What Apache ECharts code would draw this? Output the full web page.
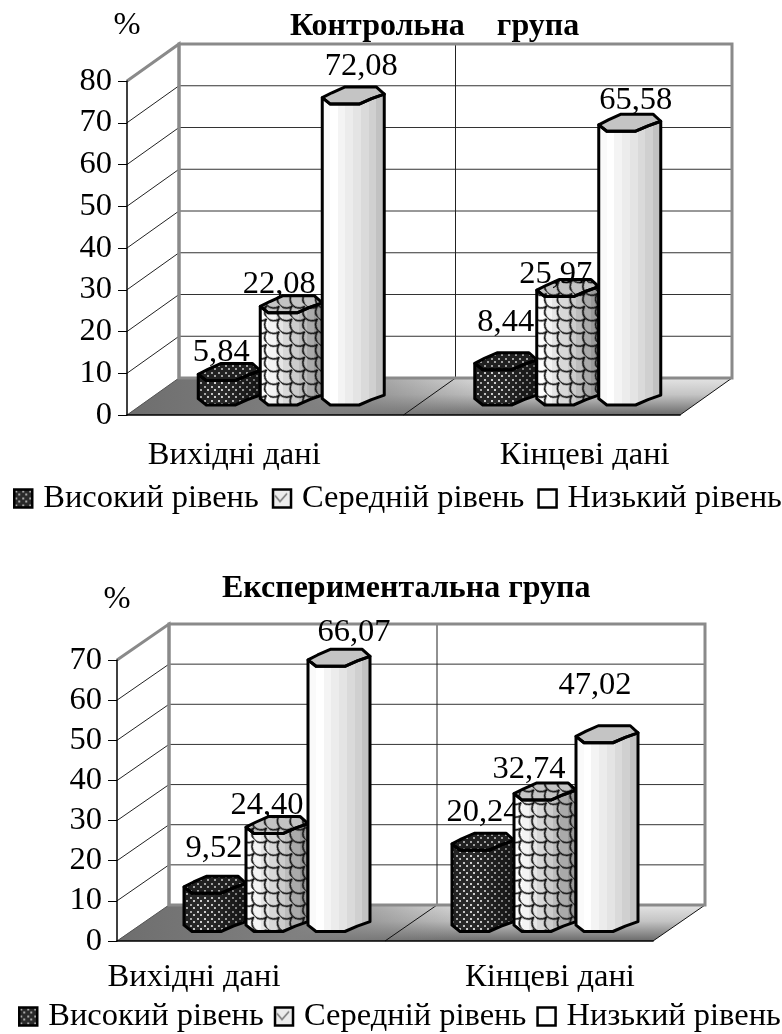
<!DOCTYPE html>
<html>
<head>
<meta charset="utf-8">
<style>
  html, body { margin: 0; padding: 0; background: #fff; }
  #chart { width: 782px; height: 1034px; }
</style>
<script src="https://cdn.jsdelivr.net/npm/echarts@6/dist/echarts.min.js"></script>
</head>
<body>
<div id="chart"></div>
<script>
  const categories = ['Вихідні дані', 'Кінцеві дані'];
  const levelNames = ['Високий рівень', 'Середній рівень', 'Низький рівень'];

  const controlHigh = [5.84, 8.44];
  const controlMiddle = [22.08, 25.97];
  const controlLow = [72.08, 65.58];

  const expHigh = [9.52, 20.24];
  const expMiddle = [24.40, 32.74];
  const expLow = [66.07, 47.02];

  const controlTitle = 'Контрольна    група';
  const expTitle = 'Експериментальна група';
  const unitName = '%';

  const FONT = '"Liberation Serif", "Times New Roman", serif';
  const BIG = 32.5;

  // outline of the faceted cylinder top, in units of its half width / half height
  const RIM_BACK = [[-1, .25], [-.69, -.33], [-.28, -1], [.75, -1], [1, -.17]];
  const RIM_FRONT = [[1, -.17], [.59, .37], [.19, 1], [-.74, 1], [-1, .25]];

  function patternCanvas(size, draw) {
    let c = document.createElement('canvas');
    c.width = c.height = size;
    draw(c.getContext('2d'), size);
    return c;
  }

  // dark lattice of the "high" bars
  const latticeTile = patternCanvas(7, (ctx, s) => {
    ctx.fillStyle = 'rgba(0,0,0,0.8)';
    ctx.fillRect(0, 0, s, s);
    ctx.clearRect(1, 1, 2, 2);
    ctx.clearRect(4, 4, 2, 2);
  });

  // scale pattern of the "middle" bars
  const scaleTile = patternCanvas(18, (ctx, s) => {
    ctx.strokeStyle = '#111';
    ctx.lineWidth = 1.6;
    [[s / 2, 0], [0, s / 2], [s, s / 2], [s / 2, s]].forEach(p => {
      ctx.beginPath();
      ctx.arc(p[0], p[1], s / 2, 0.1, Math.PI - 0.1);
      ctx.stroke();
    });
  });

  // legend swatches
  const highSwatch = patternCanvas(7, (ctx, s) => {
    ctx.fillStyle = '#2a2a2a';
    ctx.fillRect(0, 0, s, s);
    ctx.fillStyle = '#a8a8a8';
    ctx.fillRect(1, 1, 2, 2);
    ctx.fillRect(4, 4, 2, 2);
  });
  const middleSwatch = patternCanvas(16, (ctx, s) => {
    ctx.fillStyle = '#ececec';
    ctx.fillRect(0, 0, s, s);
    ctx.strokeStyle = '#777';
    ctx.lineWidth = 1.5;
    ctx.beginPath();
    ctx.moveTo(2, 6);
    ctx.lineTo(7, 12);
    ctx.lineTo(14, 4);
    ctx.stroke();
  });

  function steps(colors) {
    let stops = [];
    colors.forEach((c, i) => {
      stops.push({ offset: i / colors.length, color: c });
      stops.push({ offset: (i + 1) / colors.length, color: c });
    });
    return { type: 'linear', x: 0, y: 0, x2: 1, y2: 0, colorStops: stops };
  }

  const SHADES = [
    steps(['#a8a8a8', '#c4c4c4', '#d0d0d0', '#c4c4c4', '#b0b0b0', '#989898', '#808080', '#707070']),
    steps(['#ffffff', '#f4f4f4', '#e6e6e6', '#d8d8d8', '#cccccc', '#bcbcbc', '#aaaaaa', '#9a9a9a']),
    steps(['#fafafa', '#ffffff', '#f4f4f4', '#ececec', '#e4e4e4', '#dadada', '#d0d0d0', '#c2c2c2'])
  ];
  const TOP_FILL = ['#a0a0a0', '#c4c4c4', '#c4c4c4'];
  const OVERLAY = [
    { image: latticeTile, repeat: 'repeat' },
    { image: scaleTile, repeat: 'repeat', rotation: Math.PI / 4 },
    null
  ];

  function bandEdges(api) {
    let band = api.size([1, 0])[0];
    let left = api.coord([0, 0])[0] - band / 2;
    return { band: band, left: left, right: left + band * categories.length };
  }

  function wallSeries(gridIndex, maxVal, dx, dy) {
    return {
      type: 'custom',
      xAxisIndex: gridIndex,
      yAxisIndex: gridIndex,
      z: 1,
      silent: true,
      data: [[0, 0]],
      renderItem: function (params, api) {
        let e = bandEdges(api);
        let y0 = api.coord([0, 0])[1];
        let yTop = api.coord([0, maxVal])[1];
        let kids = [];
        const line = (x1, y1, x2, y2, color, w) => kids.push({
          type: 'line',
          shape: { x1: x1, y1: y1, x2: x2, y2: y2 },
          style: { stroke: color, lineWidth: w }
        });
        let floor = [[e.left, y0], [e.right, y0], [e.right + dx, y0 - dy], [e.left + dx, y0 - dy]];
        kids.push({
          type: 'polygon',
          shape: { points: floor },
          style: {
            fill: { type: 'linear', x: 0, y: 0, x2: 0, y2: 1, colorStops: [
              { offset: 0, color: '#e4e4e4' }, { offset: .45, color: '#c4c4c4' }, { offset: 1, color: '#6a6a6a' }
            ] }
          }
        });
        kids.push({
          type: 'polygon',
          shape: { points: floor },
          style: {
            fill: { type: 'linear', x: 0, y: 0, x2: 1, y2: 0, colorStops: [
              { offset: 0, color: 'rgba(110,110,110,1)' }, { offset: .3, color: 'rgba(128,128,128,1)' },
              { offset: .62, color: 'rgba(128,128,128,0)' }, { offset: 1, color: 'rgba(128,128,128,0)' }
            ] }
          }
        });
        for (let v = 10; v <= maxVal; v += 10) {
          let y = api.coord([0, v])[1];
          if (v < maxVal) line(e.left, y, e.left + dx, y - dy, '#222', 1);
          line(e.left + dx, y - dy, e.right + dx, y - dy, '#333', 1);
        }
        // divider between the two groups
        line(e.left + e.band, y0, e.left + e.band + dx, y0 - dy, '#111', 1);
        line(e.left + e.band + dx, y0 - dy, e.left + e.band + dx, yTop - dy, '#222', 1);
        line(e.right, y0, e.right + dx, y0 - dy, '#111', 1);
        line(e.left, y0, e.left + dx, y0 - dy, '#555', 1);
        // grey frame of the walls
        kids.push({
          type: 'polyline',
          shape: { points: [[e.left, yTop], [e.left + dx, yTop - dy], [e.left + dx, y0 - dy]] },
          style: { stroke: '#8a8a8a', lineWidth: 3, fill: 'none' }
        });
        kids.push({
          type: 'polygon',
          shape: { points: [[e.left + dx, yTop - dy], [e.right + dx, yTop - dy], [e.right + dx, y0 - dy], [e.left + dx, y0 - dy]] },
          style: { stroke: '#8a8a8a', lineWidth: 3, fill: 'none' }
        });
        return { type: 'group', children: kids };
      }
    };
  }

  function cylinderSeries(gridIndex, level, values, nudges, dx, dy) {
    const BAR_W = 62;
    return {
      type: 'custom',
      name: levelNames[level],
      xAxisIndex: gridIndex,
      yAxisIndex: gridIndex,
      z: 3,
      data: values.map((v, i) => [i, v]),
      renderItem: function (params, api) {
        let i = api.value(0), val = api.value(1);
        let cx = api.coord([i, 0])[0] + dx / 2 + (level - 1) * BAR_W;
        let yBase = api.coord([i, 0])[1] - dy / 2;
        let yTop = api.coord([i, val])[1] - dy / 2;
        let hw = BAR_W / 2, hh = 8.5;
        const pt = (p, y) => [cx + p[0] * hw, y + p[1] * hh];
        let front = RIM_FRONT.map(p => pt(p, yTop));
        let back = RIM_BACK.map(p => pt(p, yTop));
        let base = RIM_FRONT.map(p => pt(p, yBase));
        let body = front.slice().reverse().concat(base);
        let rim = back.concat(front.slice(1, -1));
        let kids = [];
        kids.push({ type: 'polygon', shape: { points: body }, style: { fill: SHADES[level], stroke: null } });
        kids.push({ type: 'polygon', shape: { points: rim }, style: { fill: TOP_FILL[level], stroke: null } });
        if (OVERLAY[level]) {
          kids.push({ type: 'polygon', shape: { points: body }, style: { fill: OVERLAY[level], stroke: null } });
          kids.push({ type: 'polygon', shape: { points: rim }, style: { fill: OVERLAY[level], stroke: null } });
        }
        kids.push({ type: 'polygon', shape: { points: body }, style: { fill: 'none', stroke: '#000', lineWidth: 3, lineJoin: 'round' } });
        kids.push({ type: 'polygon', shape: { points: rim }, style: { fill: 'none', stroke: '#000', lineWidth: 3, lineJoin: 'round' } });
        let n = nudges[i];
        kids.push({
          type: 'text',
          style: {
            text: val.toFixed(2).replace('.', ','),
            x: cx + n[0],
            y: yTop - hh + n[1],
            align: 'center',
            verticalAlign: 'middle',
            fill: '#000',
            font: BIG + 'px ' + FONT
          }
        });
        return { type: 'group', children: kids };
      }
    };
  }

  function legendFor(top, left, gap) {
    return {
      top: top,
      left: left,
      width: 782 - left,
      icon: 'rect',
      itemWidth: 18,
      itemHeight: 18,
      itemGap: gap,
      padding: 0,
      textStyle: { fontFamily: FONT, fontSize: BIG, color: '#000', padding: [0, 0, 0, 6] },
      data: [
        { name: levelNames[0], itemStyle: { color: { image: highSwatch, repeat: 'repeat' }, borderColor: '#000', borderWidth: 2.5 } },
        { name: levelNames[1], itemStyle: { color: { image: middleSwatch, repeat: 'repeat' }, borderColor: '#000', borderWidth: 2.5 } },
        { name: levelNames[2], itemStyle: { color: '#fff', borderColor: '#000', borderWidth: 2.5 } }
      ]
    };
  }

  function xAxisFor(gridIndex, margin, shiftL, shiftR) {
    return {
      gridIndex: gridIndex,
      type: 'category',
      data: categories,
      z: 2,
      axisLine: { lineStyle: { color: '#000', width: 1.5 } },
      axisTick: { length: 10, lineStyle: { color: '#000' } },
      splitLine: { show: false },
      axisLabel: {
        margin: margin,
        interval: 0,
        fontFamily: FONT,
        fontSize: BIG,
        color: '#000',
        formatter: (v, i) => '{c' + i + '|' + v + '}',
        rich: {
          c0: { fontFamily: FONT, fontSize: BIG, color: '#000', padding: [0, shiftL, 0, 0] },
          c1: { fontFamily: FONT, fontSize: BIG, color: '#000', padding: [0, 0, 0, shiftR] }
        }
      }
    };
  }

  function yAxisFor(gridIndex, maxVal, nameGap) {
    return {
      gridIndex: gridIndex,
      type: 'value',
      min: 0,
      max: maxVal,
      interval: 10,
      z: 2,
      name: unitName,
      nameLocation: 'end',
      nameGap: nameGap,
      nameTextStyle: { fontFamily: FONT, fontSize: BIG, color: '#000', align: 'center' },
      axisLine: { show: true, onZero: false, lineStyle: { color: '#000', width: 1.5 } },
      axisTick: { show: true, length: 9, lineStyle: { color: '#000' } },
      splitLine: { show: false },
      axisLabel: { margin: 15, padding: [5, 0, 0, 0], fontFamily: FONT, fontSize: BIG, color: '#000' }
    };
  }

  const titleStyle = { fontFamily: FONT, fontSize: 32, fontWeight: 'bold', color: '#000' };

  const controlNudges = [
    [[-8, -11], [0, -30]],
    [[-12, -11], [-12, -5]],
    [[8, -21], [6, -14]]
  ];
  const expNudges = [
    [[-1, -28], [0, -21]],
    [[-10, -11], [-16, -14]],
    [[15, -17], [-12, -40]]
  ];

  let option = {
    backgroundColor: '#fff',
    animation: false,
    title: [
      { text: controlTitle, left: 290, top: 11, textStyle: titleStyle, padding: 0 },
      { text: expTitle, left: 222, top: 573, textStyle: titleStyle, padding: 0 }
    ],
    legend: [legendFor(482, 13, 13), legendFor(1000, 18, 10)],
    grid: [
      { left: 127, top: 81, width: 553, height: 334 },
      { left: 117, top: 660, width: 536, height: 281 }
    ],
    xAxis: [xAxisFor(0, 24, 62, 86), xAxisFor(1, 20, 114, 62)],
    yAxis: [yAxisFor(0, 80, 39), yAxisFor(1, 70, 44)],
    series: [
      wallSeries(0, 80, 52, 37),
      cylinderSeries(0, 0, controlHigh, controlNudges[0], 52, 37),
      cylinderSeries(0, 1, controlMiddle, controlNudges[1], 52, 37),
      cylinderSeries(0, 2, controlLow, controlNudges[2], 52, 37),
      wallSeries(1, 70, 52, 36),
      cylinderSeries(1, 0, expHigh, expNudges[0], 52, 36),
      cylinderSeries(1, 1, expMiddle, expNudges[1], 52, 36),
      cylinderSeries(1, 2, expLow, expNudges[2], 52, 36)
    ]
  };

  echarts.init(document.getElementById('chart')).setOption(option);
</script>
</body>
</html>
